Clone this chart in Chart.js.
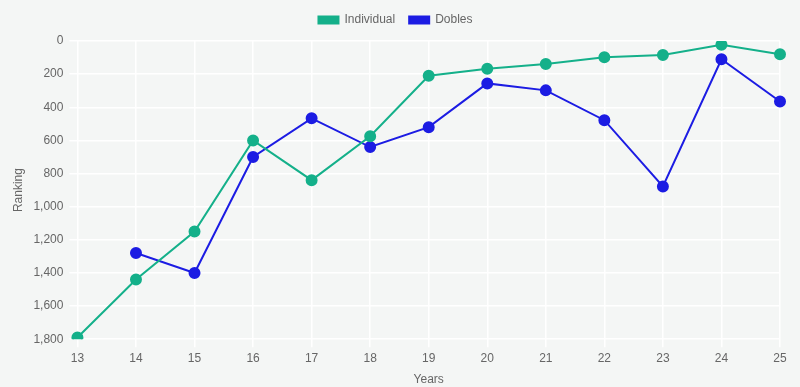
<!DOCTYPE html>
<html>
<head>
<meta charset="utf-8">
<script src="https://cdn.jsdelivr.net/npm/chart.js@4.4.1/dist/chart.umd.min.js"></script>
<style>
  html, body { margin: 0; padding: 0; background: #f4f6f5; }
  #wrap { width: 800px; height: 387px; }
</style>
</head>
<body>
<div id="wrap"><canvas id="ranking-chart"></canvas></div>
<script>
const years = ['13', '14', '15', '16', '17', '18', '19', '20', '21', '22', '23', '24', '25'];
const individual = [1790, 1440, 1150, 600, 840, 575, 210, 168, 139, 98, 85, 22, 80];
const dobles = [null, 1280, 1400, 700, 467, 640, 520, 256, 298, 478, 878, 110, 365];

Chart.defaults.font.family = '"Liberation Sans", Arial, Helvetica, sans-serif';
Chart.defaults.font.size = 12;
Chart.defaults.color = '#666';

// extra space under the legend
const legendSpacing = {
    id: 'legendSpacing',
    beforeInit(chart) {
        const origFit = chart.legend.fit;
        chart.legend.fit = function fit() {
            origFit.bind(chart.legend)();
            this.height += 5;
        };
    }
};

new Chart(document.getElementById('ranking-chart'), {
    type: 'line',
    data: {
        labels: years,
        datasets: [
            {
                label: 'Individual',
                data: individual,
                borderColor: '#14b08a',
                backgroundColor: '#14b08a',
                borderWidth: 2,
                pointRadius: 5,
                pointHoverRadius: 6,
                tension: 0
            },
            {
                label: 'Dobles',
                data: dobles,
                borderColor: '#1c1ce3',
                backgroundColor: '#1c1ce3',
                borderWidth: 2,
                pointRadius: 5,
                pointHoverRadius: 6,
                tension: 0
            }
        ]
    },
    options: {
        responsive: true,
        maintainAspectRatio: false,
        animation: false,
        layout: { padding: { left: 11, right: 20, top: 0, bottom: 0 } },
        plugins: {
            legend: {
                position: 'top',
                labels: { boxWidth: 20, boxHeight: 7, padding: 14, color: '#666' }
            },
            tooltip: { enabled: false }
        },
        scales: {
            x: {
                title: { display: true, text: 'Years', color: '#666', padding: { top: 3, bottom: 0 } },
                grid: { color: '#ffffff', lineWidth: 1.5 },
                border: { display: false },
                ticks: { color: '#666', padding: 4 }
            },
            y: {
                reverse: true,
                min: 0,
                max: 1800,
                ticks: { stepSize: 200, color: '#666', padding: 6 },
                title: { display: true, text: 'Ranking', color: '#666', padding: { top: 0, bottom: 2 } },
                grid: { color: '#ffffff', lineWidth: 1.5 },
                border: { display: false }
            }
        }
    },
    plugins: [legendSpacing]
});
</script>
</body>
</html>
